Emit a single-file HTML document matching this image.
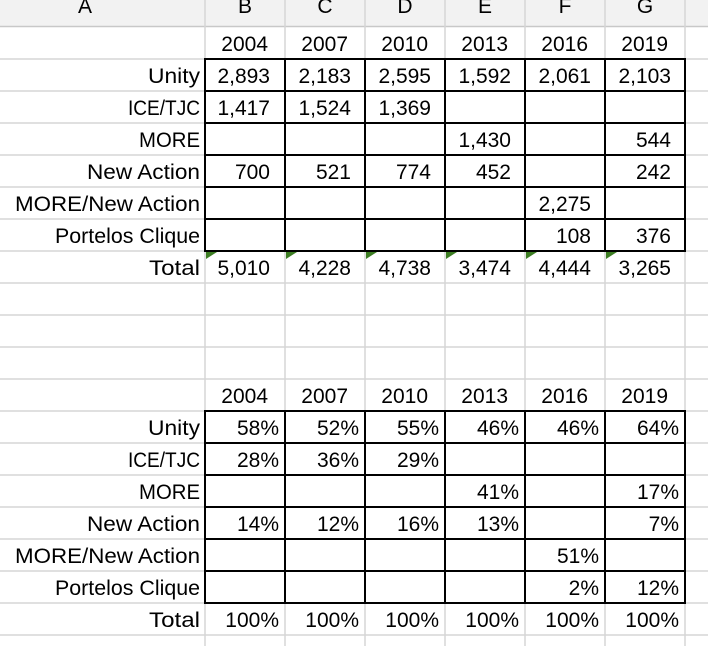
<!DOCTYPE html>
<html><head><meta charset="utf-8"><style>
html,body{margin:0;padding:0;background:#fff;width:708px;height:646px;overflow:hidden}
svg text{font-family:"Liberation Sans",Arial,sans-serif;font-size:21px;fill:#000}
</style></head><body>
<svg width="708" height="646" xmlns="http://www.w3.org/2000/svg">
<rect x="0" y="0" width="708" height="26" fill="#f2f2f2"/>
<line x1="0" y1="26.5" x2="708" y2="26.5" stroke="#c8c8c8" stroke-width="1.5"/>
<g stroke="#d6d6d6" stroke-width="1.5">
<line x1="205" y1="0" x2="205" y2="646"/><line x1="285" y1="0" x2="285" y2="646"/>
<line x1="365" y1="0" x2="365" y2="646"/><line x1="445" y1="0" x2="445" y2="646"/>
<line x1="525" y1="0" x2="525" y2="646"/><line x1="605" y1="0" x2="605" y2="646"/>
<line x1="685" y1="0" x2="685" y2="646"/>
<line x1="0" y1="59" x2="708" y2="59"/><line x1="0" y1="91" x2="708" y2="91"/>
<line x1="0" y1="123" x2="708" y2="123"/><line x1="0" y1="155" x2="708" y2="155"/>
<line x1="0" y1="187" x2="708" y2="187"/><line x1="0" y1="219" x2="708" y2="219"/>
<line x1="0" y1="251" x2="708" y2="251"/><line x1="0" y1="283" x2="708" y2="283"/>
<line x1="0" y1="315" x2="708" y2="315"/><line x1="0" y1="347" x2="708" y2="347"/>
<line x1="0" y1="379" x2="708" y2="379"/><line x1="0" y1="411" x2="708" y2="411"/>
<line x1="0" y1="443" x2="708" y2="443"/><line x1="0" y1="475" x2="708" y2="475"/>
<line x1="0" y1="507" x2="708" y2="507"/><line x1="0" y1="539" x2="708" y2="539"/>
<line x1="0" y1="571" x2="708" y2="571"/><line x1="0" y1="603" x2="708" y2="603"/>
<line x1="0" y1="635" x2="708" y2="635"/>
</g>
<g style="font-size:21px" text-anchor="middle">
<text x="85" y="13">A</text><text x="245" y="13">B</text><text x="325" y="13">C</text>
<text x="405" y="13">D</text><text x="485" y="13">E</text><text x="565" y="13">F</text><text x="645" y="13">G</text>
</g>
<g stroke="#000" stroke-width="2" fill="none">
<rect x="205" y="59" width="480" height="192"/>
<path d="M285 59V251M365 59V251M445 59V251M525 59V251M605 59V251M205 91H685M205 123H685M205 155H685M205 187H685M205 219H685"/>
<rect x="205" y="411" width="480" height="192"/>
<path d="M285 411V603M365 411V603M445 411V603M525 411V603M605 411V603M205 443H685M205 475H685M205 507H685M205 539H685M205 571H685"/>
</g>
<g fill="#3c7d22">
<path d="M206 252h11l-11 7z"/><path d="M286 252h11l-11 7z"/><path d="M366 252h11l-11 7z"/>
<path d="M446 252h11l-11 7z"/><path d="M526 252h11l-11 7z"/><path d="M606 252h11l-11 7z"/>
</g>
<g text-anchor="end">
<text x="200" y="83" textLength="52" lengthAdjust="spacingAndGlyphs">Unity</text>
<text x="200" y="115" textLength="72" lengthAdjust="spacingAndGlyphs">ICE/TJC</text>
<text x="200" y="147" textLength="61" lengthAdjust="spacingAndGlyphs">MORE</text>
<text x="200" y="179" textLength="113" lengthAdjust="spacingAndGlyphs">New Action</text>
<text x="200" y="211" textLength="185" lengthAdjust="spacingAndGlyphs">MORE/New Action</text>
<text x="200" y="243" textLength="145" lengthAdjust="spacingAndGlyphs">Portelos Clique</text>
<text x="200" y="275" textLength="51" lengthAdjust="spacingAndGlyphs">Total</text>
<text x="200" y="435" textLength="52" lengthAdjust="spacingAndGlyphs">Unity</text>
<text x="200" y="467" textLength="72" lengthAdjust="spacingAndGlyphs">ICE/TJC</text>
<text x="200" y="499" textLength="61" lengthAdjust="spacingAndGlyphs">MORE</text>
<text x="200" y="531" textLength="113" lengthAdjust="spacingAndGlyphs">New Action</text>
<text x="200" y="563" textLength="185" lengthAdjust="spacingAndGlyphs">MORE/New Action</text>
<text x="200" y="595" textLength="145" lengthAdjust="spacingAndGlyphs">Portelos Clique</text>
<text x="200" y="627" textLength="51" lengthAdjust="spacingAndGlyphs">Total</text>
<text x="268" y="51">2004</text><text x="348" y="51">2007</text><text x="428" y="51">2010</text>
<text x="508" y="51">2013</text><text x="588" y="51">2016</text><text x="668" y="51">2019</text>
<text x="268" y="403">2004</text><text x="348" y="403">2007</text><text x="428" y="403">2010</text>
<text x="508" y="403">2013</text><text x="588" y="403">2016</text><text x="668" y="403">2019</text>
<text x="270" y="83">2,893</text><text x="351" y="83">2,183</text><text x="431" y="83">2,595</text>
<text x="511" y="83">1,592</text><text x="591" y="83">2,061</text><text x="671" y="83">2,103</text>
<text x="270" y="115">1,417</text><text x="351" y="115">1,524</text><text x="431" y="115">1,369</text>
<text x="511" y="147">1,430</text><text x="671" y="147">544</text>
<text x="270" y="179">700</text><text x="351" y="179">521</text><text x="431" y="179">774</text>
<text x="511" y="179">452</text><text x="671" y="179">242</text>
<text x="591" y="211">2,275</text>
<text x="591" y="243">108</text><text x="671" y="243">376</text>
<text x="270" y="275">5,010</text><text x="351" y="275">4,228</text><text x="431" y="275">4,738</text>
<text x="511" y="275">3,474</text><text x="591" y="275">4,444</text><text x="671" y="275">3,265</text>
<text x="279" y="435">58%</text><text x="359" y="435">52%</text><text x="439" y="435">55%</text>
<text x="519" y="435">46%</text><text x="599" y="435">46%</text><text x="679" y="435">64%</text>
<text x="279" y="467">28%</text><text x="359" y="467">36%</text><text x="439" y="467">29%</text>
<text x="519" y="499">41%</text><text x="679" y="499">17%</text>
<text x="279" y="531">14%</text><text x="359" y="531">12%</text><text x="439" y="531">16%</text>
<text x="519" y="531">13%</text><text x="679" y="531">7%</text>
<text x="599" y="563">51%</text>
<text x="599" y="595">2%</text><text x="679" y="595">12%</text>
<text x="279" y="627">100%</text><text x="359" y="627">100%</text><text x="439" y="627">100%</text>
<text x="519" y="627">100%</text><text x="599" y="627">100%</text><text x="679" y="627">100%</text>
</g>
</svg>
</body></html>
